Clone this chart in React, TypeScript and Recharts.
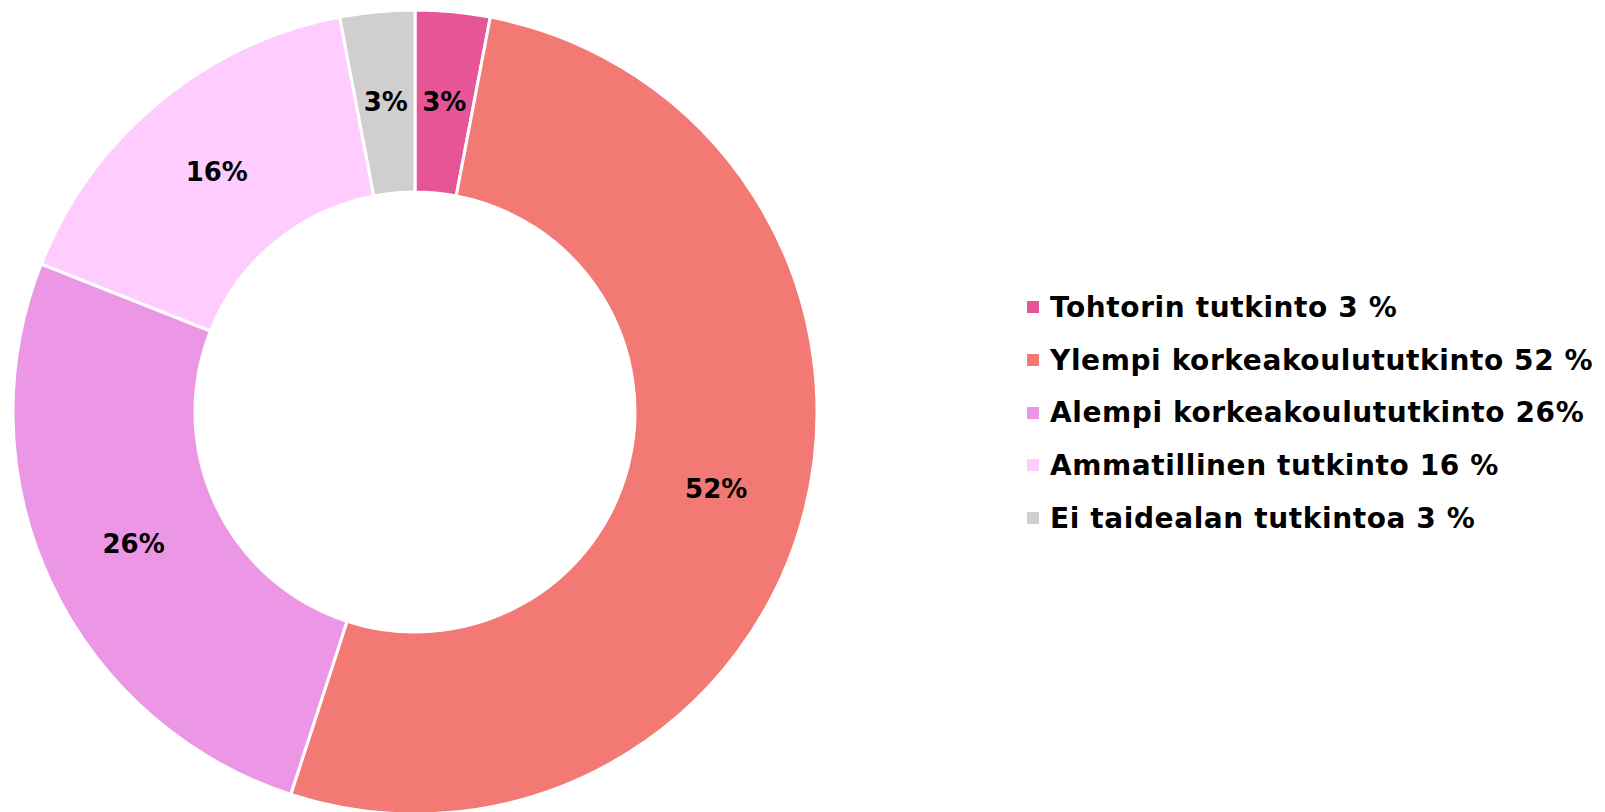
import { PieChart, Pie, Cell } from "recharts"

const categories = [
  "Tohtorin tutkinto",
  "Ylempi korkeakoulututkinto",
  "Alempi korkeakoulututkinto",
  "Ammatillinen tutkinto",
  "Ei taidealan tutkintoa",
]
const shares = [3, 52, 26, 16, 3]
const legendLabels = [
  "Tohtorin tutkinto 3 %",
  "Ylempi korkeakoulututkinto 52 %",
  "Alempi korkeakoulututkinto 26%",
  "Ammatillinen tutkinto 16 %",
  "Ei taidealan tutkintoa 3 %",
]
const colors = ["#E75598", "#F37975", "#EC97E6", "#FFCCFF", "#D0CECE"]

const FONT = "'DejaVu Sans', Lato, sans-serif"

const data = categories.map((name, i) => ({ name, value: shares[i] }))

const RADIAN = Math.PI / 180

function renderLabel(props: any) {
  const { cx, cy, midAngle, innerRadius, outerRadius, value } = props
  const r = (innerRadius + outerRadius) / 2
  const x = cx + r * Math.cos(-midAngle * RADIAN)
  const y = cy + r * Math.sin(-midAngle * RADIAN)
  return (
    <text
      x={x}
      y={y}
      textAnchor="middle"
      dominantBaseline="central"
      fill="#000"
      fontFamily={FONT}
      fontWeight="bold"
      fontSize={26}
    >
      {value}%
    </text>
  )
}

function LegendList() {
  return (
    <div style={{ position: "absolute", left: 1027, top: 281, fontFamily: FONT }}>
      {legendLabels.map((label, i) => (
        <div
          key={label}
          style={{ display: "flex", alignItems: "center", height: 52.7, whiteSpace: "nowrap" }}
        >
          <span
            style={{
              display: "inline-block",
              width: 12,
              height: 12,
              background: colors[i],
              marginRight: 11,
            }}
          />
          <span style={{ fontSize: 28, fontWeight: "bold", color: "#000", letterSpacing: 0.6 }}>
            {label}
          </span>
        </div>
      ))}
    </div>
  )
}

export default function App() {
  return (
    <div style={{ position: "absolute", left: 0, top: 0, width: 1605, height: 812, background: "#fff" }}>
      <PieChart width={1605} height={812} margin={{ top: 0, right: 0, bottom: 0, left: 0 }}>
        <Pie
          data={data}
          dataKey="value"
          nameKey="name"
          cx={415}
          cy={412}
          innerRadius={220}
          outerRadius={402}
          startAngle={90}
          endAngle={-270}
          stroke="#fff"
          strokeWidth={3}
          label={renderLabel}
          labelLine={false}
          isAnimationActive={false}
        >
          {data.map((d, i) => (
            <Cell key={d.name} fill={colors[i]} />
          ))}
        </Pie>
      </PieChart>
      <LegendList />
    </div>
  )
}
